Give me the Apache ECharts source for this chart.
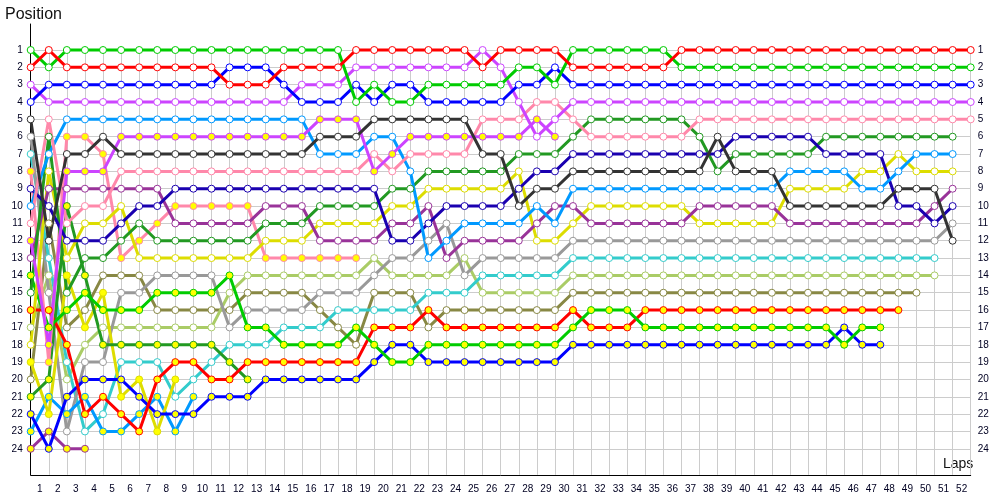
<!DOCTYPE html>
<html>
<head>
<meta charset="utf-8">
<script src="https://cdn.jsdelivr.net/npm/echarts@6/dist/echarts.min.js"></script>
<style>html,body{margin:0;padding:0;background:#fff}#c{width:1000px;height:500px}</style>
</head>
<body>
<div id="c"></div>
<script>
// Lap labels and position labels
const lapLabels = Array.from({length: 52}, (_, i) => String(i + 1));
const positionTicks = Array.from({length: 24}, (_, i) => i + 1);

// Positions per lap (index 0 = start, then lap 1, 2, ...)
const greenA = [1,2, 1,1,1,1,1,1,1,1,1,1,1,1,1,1,1,1, 4,3,4,4, 3,3,3,3,3, 2,2,3, 1,1,1,1,1,1, 2,2,2,2,2,2,2,2,2,2,2,2,2,2,2,2,2];
const redA = [2,1, 2,2,2,2,2,2,2,2,2, 3,3,3, 2,2,2,2, 1,1,1,1,1,1,1, 2, 1,1,1,1, 2,2,2,2,2,2, 1,1,1,1,1,1,1,1,1,1,1,1,1,1,1,1,1];
const blueA = [4, 3,3,3,3,3,3,3,3,3,3, 2,2,2, 3, 4,4,4, 3, 4, 3,3, 4,4,4,4,4, 3,3, 2, 3,3,3,3,3,3,3,3,3,3,3,3,3,3,3,3,3,3,3,3,3,3,3];
const violetA = [3, 4,4,4,4,4,4,4,4,4,4,4,4,4,4, 3,3,3, 2,2,2,2,2,2,2, 1, 2, 4, 6, 5, 4,4,4,4,4,4,4,4,4,4,4,4,4,4,4,4,4,4,4,4,4,4,4];
const violetB = [12, 18, 8,8,8, 6,6,6,6,6,6,6,6,6,6,6, 5,5,5, 8, 7, 6,6,6,6,6,6,6, 5, 6];
const darkGray = [5, 12, 7, 7, 6, 7,7,7,7,7,7,7,7,7,7,7, 6,6,6, 5,5,5,5,5,5, 7,7, 10, 9,9, 8,8,8,8,8,8,8,8, 6, 8,8,8, 10,10,10,10,10,10, 9,9,9, 12];
const lightGray = [6, 15, 23, 19, 19, 15, 15, 14,14,14,14, 17, 16,16,16,16, 15,15,15, 14, 13,13, 12, 11, 14, 13,13,13,13,13, 12,12,12,12,12,12,12,12,12,12,12,12,12,12,12,12,12,12,12,12,12, 11];
const cyan = [7, 13, 19, 23, 22, 19, 19, 19, 21, 20, 19, 18,18,18, 17,17,17, 16,16, 16,16,16, 15,15,15, 14,14,14,14,14, 13,13,13,13,13,13,13,13,13,13,13,13,13,13,13,13,13,13,13,13,13];
const indigo = [9, 10, 12,12,12, 11, 10, 10, 9,9,9,9,9,9,9,9,9,9,9,9, 12,12, 11, 10,10,10,10, 9, 8,8, 7,7,7,7,7,7,7,7,7, 6,6,6,6,6, 7,7,7,7, 10,10, 11, 10];
const lightBlueA = [10, 7, 5,5,5,5,5,5,5,5,5,5,5,5,5,5, 7,7,7, 6,6, 8, 13, 12, 11,11,11,11, 10, 11, 9,9,9,9,9,9,9,9,9,9,9,9, 8,8,8,8, 9,9, 8, 7,7,7];
const pinkA = [11, 5, 11, 10, 10, 8, 8,8,8,8,8,8,8,8,8,8,8,8,8, 7, 8, 7,7,7,7, 5,5,5, 4,4, 5, 6,6,6,6,6,6, 5,5,5,5,5,5,5,5,5,5,5,5,5,5,5,5];
const pinkB = [8, 19, 6, 6, 7, 13, 12, 11, 10,10,10,10,10, 13,13,13,13,13,13];
const purpleA = [13, 9,9,9,9,9,9,9, 11,11,11,11,11, 10,10,10, 12,12,12,12, 11,11, 10, 13, 12,12,12,12, 11, 10,10, 11,11,11,11,11,11, 10,10,10,10,10, 11,11,11,11,11,11,11,11, 10, 9];
const purpleB = [24, 23, 24, 24];
const forestA = [15, 6, 15, 13, 13, 12, 11, 12,12,12,12,12,12, 11,11,11, 10,10,10,10, 9,9, 8,8,8,8,8, 7,7,7, 6, 5,5,5,5,5,5, 6, 8, 7,7,7,7,7, 6,6,6,6,6,6,6,6];
const forestB = [21, 20, 10, 14, 18,18,18,18,18,18,18, 19, 20];
const limeB = [14, 17, 16, 15, 16, 16, 16, 15,15,15,15, 14, 17,17, 18,18,18,18, 17, 18, 19,19, 18,18,18,18,18,18,18,18, 17, 16,16,16, 17,17,17,17,17,17,17,17,17,17,17, 18, 17,17];
const redB = [16, 16, 18, 22, 21, 22, 23, 20, 19, 19, 20, 20, 19,19,19,19,19,19,19, 17,17,17, 16, 17,17,17,17,17,17,17, 16, 17,17,17, 16,16,16,16,16,16,16,16,16,16,16,16,16,16,16];
const blueB = [22, 24, 21, 20, 20, 20, 21, 22,22,22, 21,21,21, 20,20,20,20,20,20, 19, 18,18, 19,19,19,19,19,19,19,19, 18,18,18,18,18,18,18,18,18,18,18,18,18,18,18, 17, 18,18];
const yellowA = [18, 8, 13, 11, 11, 10, 13,13,13,13,13,13,13, 12,12,12, 11,11,11,11, 10,10, 9,9,9,9,9, 8, 12,12, 11, 10,10,10,10,10,10, 11,11,11,11,11, 9,9,9,9, 8,8, 7, 8,8,8];
const yellowB = [19, 22, 14, 17, 15, 21, 20, 23, 20];
const lightBlueB = [23, 21, 22, 21, 23, 23, 22, 21, 23, 21];
const lightOlive = [17, 14, 20, 18, 17,17,17,17,17,17,17, 15, 14,14,14,14,14,14,14, 13, 14,14,14,14, 13, 15,15,15,15,15, 14,14,14,14,14,14,14,14,14,14,14,14,14,14,14,14,14,14,14,14,14];
const olive = [20, 11, 17, 16, 14,14,14, 16,16,16,16,16, 15,15,15,15, 16, 17, 18, 15,15,15, 17, 16,16,16,16,16,16,16, 15,15,15,15,15,15,15,15,15,15,15,15,15,15,15,15,15,15,15,15];

const drivers = [
  {name: 'olive', data: olive, color: '#888844', fill: '#ffffff'},
  {name: 'lightOlive', data: lightOlive, color: '#aacc66', fill: '#ffffff'},
  {name: 'cyan', data: cyan, color: '#33cccc', fill: '#ffffff'},
  {name: 'lightGray', data: lightGray, color: '#999999', fill: '#ffffff'},
  {name: 'purpleB', data: purpleB, color: '#993399', fill: '#ffff00'},
  {name: 'lightBlueB', data: lightBlueB, color: '#0099ff', fill: '#ffff00'},
  {name: 'yellowB', data: yellowB, color: '#dddd00', fill: '#ffff00'},
  {name: 'forestB', data: forestB, color: '#229922', fill: '#ffff00'},
  {name: 'blueB', data: blueB, color: '#0000ff', fill: '#ffff00'},
  {name: 'redB', data: redB, color: '#ff0000', fill: '#ffff00'},
  {name: 'limeB', data: limeB, color: '#00cc00', fill: '#ffff00'},
  {name: 'pinkB', data: pinkB, color: '#ff88aa', fill: '#ffff00'},
  {name: 'yellowA', data: yellowA, color: '#dddd00', fill: '#ffffff'},
  {name: 'purpleA', data: purpleA, color: '#993399', fill: '#ffffff'},
  {name: 'forestA', data: forestA, color: '#229922', fill: '#ffffff'},
  {name: 'indigo', data: indigo, color: '#1a00b0', fill: '#ffffff'},
  {name: 'lightBlueA', data: lightBlueA, color: '#0099ff', fill: '#ffffff'},
  {name: 'pinkA', data: pinkA, color: '#ff88aa', fill: '#ffffff'},
  {name: 'violetB', data: violetB, color: '#cc44ff', fill: '#ffff00'},
  {name: 'darkGray', data: darkGray, color: '#333333', fill: '#ffffff'},
  {name: 'violetA', data: violetA, color: '#cc44ff', fill: '#ffffff'},
  {name: 'blueA', data: blueA, color: '#0000ff', fill: '#ffffff'},
  {name: 'greenA', data: greenA, color: '#00cc00', fill: '#ffffff'},
  {name: 'redA', data: redA, color: '#ff0000', fill: '#ffffff'}
];

// split line colours: ticks at -0.5, 0, 0.5, ... 25.5 ; only integer 1..24 visible
const splitColors = [];
for (let i = 0; i <= 52; i++) {
  const v = -0.5 + i * 0.5;
  splitColors.push(Number.isInteger(v) && v >= 1 && v <= 24 ? '#cccccc' : 'rgba(0,0,0,0)');
}
const posLabel = v => (Number.isInteger(v) && v >= 1 && v <= 24) ? String(v) : '';
const labelFont = {fontFamily: 'Liberation Sans', fontSize: 10, color: '#000022'};

const chart = echarts.init(document.getElementById('c'), null, {renderer: 'canvas'});
chart.setOption({
  animation: false,
  backgroundColor: '#ffffff',
  grid: [
    {left: 30.7, right: 29.3, top: 24, bottom: 25.2},
    {left: 30.7, right: 29.3, top: 50, bottom: 25.2}
  ],
  xAxis: [
    {type: 'value', gridIndex: 0, min: 0, max: 52, interval: 1,
     axisLine: {show: true, onZero: false, lineStyle: {color: '#000', width: 1}},
     axisTick: {show: false}, axisLabel: {show: false}, splitLine: {show: false}},
    {type: 'category', gridIndex: 0, data: lapLabels, boundaryGap: true, position: 'bottom',
     axisLine: {show: false, onZero: false}, axisTick: {show: false},
     axisLabel: Object.assign({margin: 9, interval: 0}, labelFont), splitLine: {show: false}},
    {type: 'value', gridIndex: 1, min: 0, max: 52, interval: 1,
     axisLine: {show: false, onZero: false}, axisTick: {show: false}, axisLabel: {show: false},
     splitLine: {show: true, lineStyle: {color: '#cccccc', width: 1}}}
  ],
  yAxis: [
    {type: 'value', gridIndex: 0, inverse: true, min: -0.5, max: 25.5, interval: 0.5,
     axisLine: {show: true, onZero: false, lineStyle: {color: '#000', width: 1}},
     axisTick: {show: false},
     axisLabel: Object.assign({formatter: posLabel, margin: 8}, labelFont),
     splitLine: {show: true, lineStyle: {color: splitColors, width: 1}}},
    {type: 'value', gridIndex: 0, inverse: true, min: -0.5, max: 25.5, interval: 0.5, position: 'right',
     axisLine: {show: false, onZero: false}, axisTick: {show: false},
     axisLabel: Object.assign({formatter: posLabel, margin: 7}, labelFont),
     splitLine: {show: false}},
    {type: 'value', gridIndex: 1, show: false, min: 0, max: 1}
  ],
  graphic: [
    {type: 'text', left: 5, top: 7, style: {text: 'Position', font: '16px "Liberation Sans"', fill: '#111'}},
    {type: 'text', left: 943, top: 457, style: {text: 'Laps', font: '14px "Liberation Sans"', fill: '#111'}}
  ],
  series: drivers.map(d => ({
    name: d.name,
    type: 'line',
    xAxisIndex: 0,
    yAxisIndex: 0,
    data: d.data.map((p, lap) => [lap, p]),
    symbol: 'circle',
    symbolSize: 7,
    showSymbol: true,
    lineStyle: {color: d.color, width: 3},
    itemStyle: {color: d.fill, borderColor: d.color, borderWidth: 1},
    emphasis: {disabled: true}
  }))
});
</script>
</body>
</html>
